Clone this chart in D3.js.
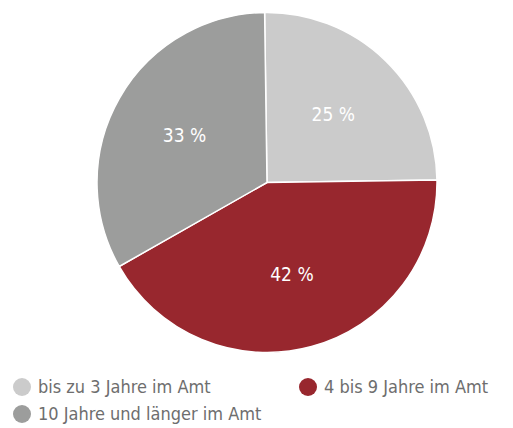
<!DOCTYPE html>
<html><head><meta charset="utf-8">
<script src="https://cdn.jsdelivr.net/npm/d3@7"></script>
<style>body{margin:0;background:#fff;}svg{display:block;}</style>
</head><body>
<svg id="chart" width="513" height="428"></svg>
<script>
const categories = ["bis zu 3 Jahre im Amt", "4 bis 9 Jahre im Amt", "10 Jahre und länger im Amt"];
const values = [25, 42, 33];
const labels = ["25 %", "42 %", "33 %"];
const colors = ["#cbcbcb", "#98272e", "#9c9d9c"];

const svg = d3.select("#chart");
const cx = 267, cy = 182.5, r = 170;
const font = "'DejaVu Sans Condensed', 'DejaVu Sans', sans-serif";

const pie = d3.pie().sort(null).startAngle(-0.014).endAngle(2*Math.PI - 0.014);
const arcs = pie(values);
const arc = d3.arc().innerRadius(0).outerRadius(r);
const labelArc = d3.arc().innerRadius(95).outerRadius(95);

const g = svg.append("g").attr("transform", `translate(${cx},${cy})`);
g.selectAll("path").data(arcs).join("path")
  .attr("d", arc)
  .attr("fill", (d,i) => colors[i])
  .attr("stroke", "#fff").attr("stroke-width", 1.5);

g.selectAll("text").data(arcs).join("text")
  .attr("transform", d => { const c = labelArc.centroid(d); return `translate(${c[0]},${c[1]})`; })
  .attr("text-anchor", "middle").attr("dy", "0.36em")
  .attr("fill", "#fff").attr("font-family", font).attr("font-size", 19)
  .text((d,i) => labels[i]);

const legendPos = [[22, 387], [308, 387], [22, 414]];
const lg = svg.append("g");
categories.forEach((c, i) => {
  const [x, y] = legendPos[i];
  lg.append("circle").attr("cx", x).attr("cy", y).attr("r", 9).attr("fill", colors[i]);
  lg.append("text").attr("x", x + 16).attr("y", y).attr("dy", "0.36em")
    .attr("fill", "#6e6e6e").attr("font-family", font).attr("font-size", 18)
    .text(c);
});
</script>
</body></html>
